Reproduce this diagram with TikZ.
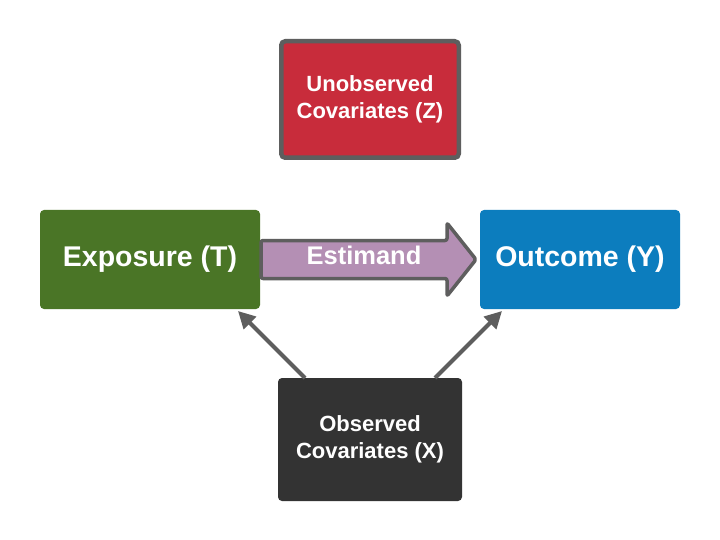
\documentclass[tikz,border=0pt]{standalone}
\usepackage{fontspec}
\setmainfont{Liberation Sans}
\usetikzlibrary{arrows.meta,calc}
\definecolor{zred}{HTML}{C82C3B}
\definecolor{tgreen}{HTML}{4A7526}
\definecolor{yblue}{HTML}{0C7DBE}
\definecolor{xdark}{HTML}{333333}
\definecolor{epurple}{HTML}{B48FB4}
\definecolor{lgray}{HTML}{5E5E5E}
\tikzset{
  box/.style={rectangle, rounded corners=4pt, inner sep=0pt, outer sep=0pt,
    text=white, align=center, font=\bfseries},
  cause/.style={draw=lgray, line width=4pt, -{Triangle[length=17pt,width=17pt]}}
}
\begin{document}
\begin{tikzpicture}[x=1pt,y=-1pt]
\useasboundingbox[fill=white] (0,0) rectangle (720,540);
\node[box, fill=zred, draw=lgray, line width=4.5pt, minimum width=177.5pt, minimum height=116.5pt,
  font=\bfseries\fontsize{22}{27}\selectfont] (Z) at (370,99.5) {Unobserved\\Covariates (Z)};
\node[box, fill=tgreen, minimum width=220pt, minimum height=99pt,
  font=\bfseries\fontsize{28.5}{32}\selectfont] (T) at (150,259.5) {Exposure (T)};
\node[box, fill=yblue, minimum width=200pt, minimum height=99pt,
  font=\bfseries\fontsize{28.5}{32}\selectfont] (Y) at (580,259.5) {Outcome (Y)};
\node[box, fill=xdark, minimum width=184pt, minimum height=123pt,
  font=\bfseries\fontsize{22}{27}\selectfont] (X) at (370,439.5) {Observed\\Covariates (X)};
% Estimand arrow
\draw[fill=epurple, draw=lgray, line width=3.5pt, line join=round, rounded corners=2pt]
  (261,240.5) -- (447,240.5) -- (447,223) -- (476,259.5) -- (447,296) -- (447,278.5) -- (261,278.5) -- cycle;
\node[text=white, font=\bfseries\fontsize{25.5}{30}\selectfont, inner sep=0pt] (E) at (364,255) {Estimand};
% causal arrows
\coordinate (xl) at ($(X.north)+(-65,0)$);
\coordinate (xr) at ($(X.north)+(65,0)$);
\coordinate (tb) at ($(T.south)+(88,2)$);
\coordinate (yb) at ($(Y.south)+(-78,2)$);
\draw[cause] (xl) -- (tb);
\draw[cause] (xr) -- (yb);
\end{tikzpicture}
\end{document}
